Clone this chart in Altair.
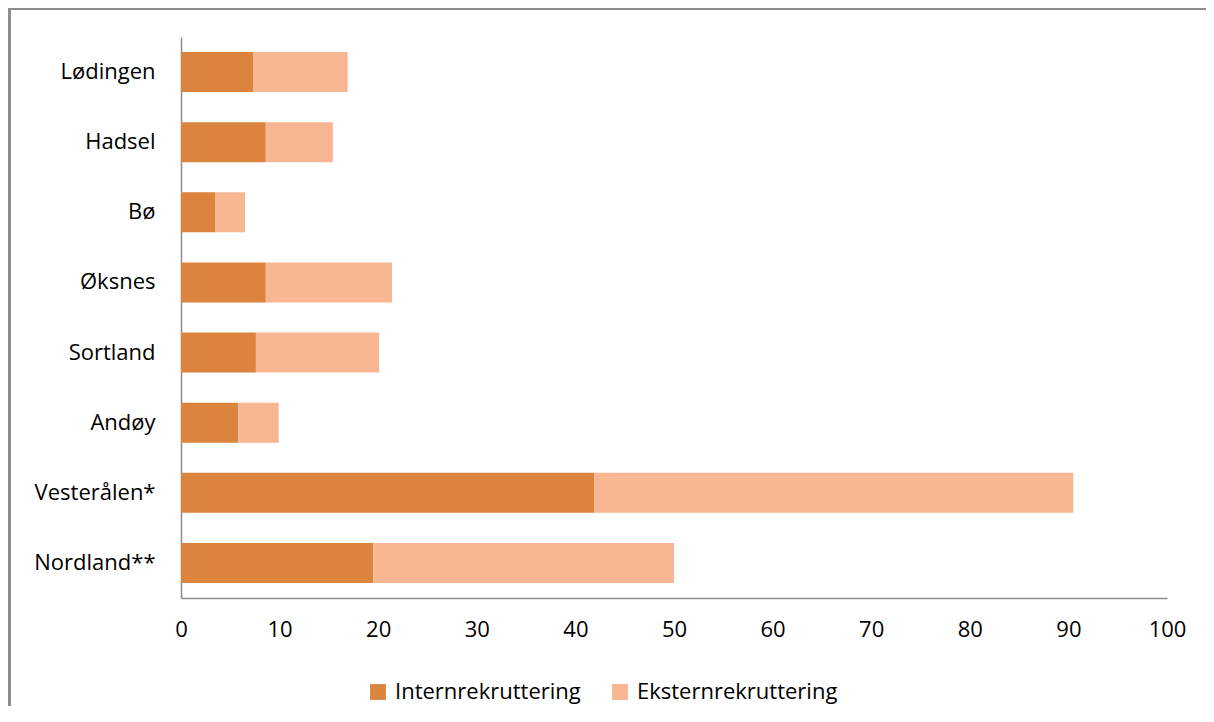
import altair as alt
import pandas as pd

kommuner = ["Lødingen", "Hadsel", "Bø", "Øksnes", "Sortland", "Andøy", "Vesterålen*", "Nordland**"]
intern = [7.3, 8.6, 3.5, 8.6, 7.6, 5.8, 41.9, 19.5]
ekstern = [9.6, 6.8, 3.0, 12.8, 12.5, 4.1, 48.6, 30.5]
serier = ["Internrekruttering", "Eksternrekruttering"]
farger = ["#DB843D", "#F8B692"]

rows = []
for k, i, e in zip(kommuner, intern, ekstern):
    rows.append({"kommune": k, "serie": serier[0], "verdi": i, "rekkefolge": 0})
    rows.append({"kommune": k, "serie": serier[1], "verdi": e, "rekkefolge": 1})
df = pd.DataFrame(rows)

FONT = "Open Sans"
FS = 22

bars = alt.Chart(df).mark_bar().encode(
    y=alt.Y("kommune:N", sort=kommuner,
            scale=alt.Scale(paddingInner=0.43, paddingOuter=0.214),
            axis=alt.Axis(title=None, ticks=False, domainColor="#8c8c8c", domainWidth=1.5,
                          labelPadding=26, labelFontSize=FS, labelFont=FONT, labelColor="#000000",
                          labelLimit=300)),
    x=alt.X("verdi:Q", stack="zero",
            scale=alt.Scale(domain=[0, 100], nice=False),
            axis=alt.Axis(title=None, values=list(range(0, 101, 10)), ticks=False, grid=False,
                          domainColor="#8c8c8c", domainWidth=1.5, labelPadding=21,
                          labelFontSize=FS, labelFont=FONT, labelColor="#000000",
                          labelFlush=False)),
    color=alt.Color("serie:N", scale=alt.Scale(domain=serier, range=farger),
                    legend=alt.Legend(title=None, orient="none", direction="horizontal",
                                      legendX=186, legendY=644, symbolType="square",
                                      symbolSize=250, symbolStrokeWidth=0,
                                      symbolOpacity=1, labelFontSize=FS, labelFont=FONT,
                                      labelColor="#000000", labelOffset=6, columnPadding=28,
                                      labelLimit=400)),
    order=alt.Order("rekkefolge:Q"),
)

frame_top = alt.Chart(df).mark_rule(color="#8c8c8c", strokeWidth=1.5).encode(
    x=alt.value(-172), x2=alt.value(1030), y=alt.value(-28.2)
)
frame_left = alt.Chart(df).mark_rule(color="#8c8c8c", strokeWidth=1.5).encode(
    x=alt.value(-171.5), y=alt.value(-29), y2=alt.value(700)
)

chart = alt.layer(bars, frame_top, frame_left).properties(
    width=986, height=561,
    background="white",
    autosize=alt.AutoSizeParams(type="none"),
    padding={"left": 173, "top": 29, "right": 39, "bottom": 108},
).configure_view(strokeWidth=0, stroke="transparent")

chart.save("out.html", embed_options={"renderer": "svg", "actions": False})
